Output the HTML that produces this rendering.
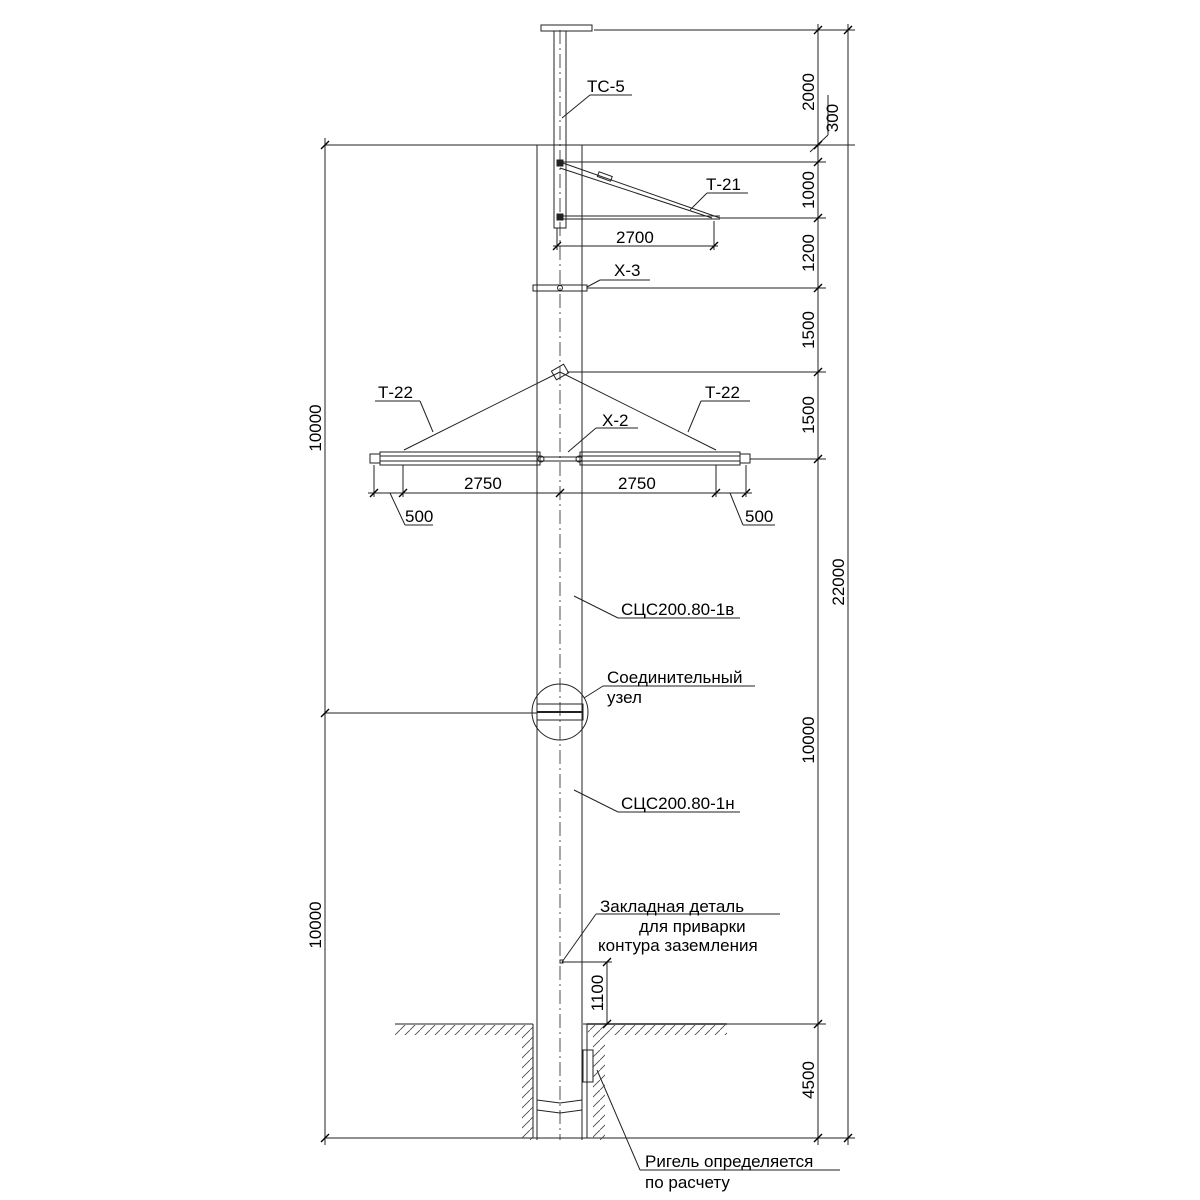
<!DOCTYPE html>
<html><head><meta charset="utf-8"><style>html,body{margin:0;padding:0;background:#fff}svg{display:block}text{font-family:"Liberation Sans","DejaVu Sans",sans-serif;fill:#000}</style></head><body>
<svg width="1200" height="1200" viewBox="0 0 1200 1200" xmlns="http://www.w3.org/2000/svg">
<defs>
<pattern id="h" width="10" height="10" patternUnits="userSpaceOnUse"><path d="M0 10 L10 0" stroke="#444" stroke-width="0.8"/></pattern>
</defs>
<g stroke="#222" stroke-width="1" fill="none">
<!-- pole -->
<line x1="537" y1="145" x2="537" y2="1140"/>
<line x1="582" y1="145" x2="582" y2="1140"/>
<line x1="560" y1="30" x2="560" y2="1140" stroke-dasharray="14,4,2,4" stroke-width="0.8"/>
<!-- TC-5 -->
<rect x="541" y="25" width="51" height="6"/>
<rect x="554" y="31" width="12" height="197"/>
<!-- T-21 -->
<line x1="560" y1="162" x2="720" y2="218"/>
<line x1="560" y1="168" x2="712" y2="218"/>
<rect x="598" y="174" width="14" height="5" transform="rotate(20 605 176)"/>
<line x1="560" y1="216" x2="720" y2="216"/>
<line x1="560" y1="219" x2="720" y2="219"/>
<rect x="557" y="160" width="6" height="6" fill="#222"/>
<rect x="557" y="214" width="6" height="6" fill="#222"/>
<!-- X-3 -->
<rect x="533" y="285" width="54" height="6"/>
<circle cx="560" cy="288" r="2.5"/>
<!-- T-22 -->
<line x1="560" y1="372" x2="404" y2="450"/>
<line x1="560" y1="372" x2="716" y2="450"/>
<rect x="553" y="367" width="14" height="10" transform="rotate(-30 560 372)"/>
<rect x="380" y="452" width="160" height="13"/>
<rect x="580" y="452" width="160" height="13"/>
<line x1="380" y1="456" x2="540" y2="456"/><line x1="380" y1="461" x2="540" y2="461"/>
<line x1="580" y1="456" x2="740" y2="456"/><line x1="580" y1="461" x2="740" y2="461"/>
<rect x="370" y="454" width="10" height="9"/><rect x="740" y="454" width="10" height="9"/>
<line x1="540" y1="457" x2="580" y2="457"/><line x1="540" y1="461" x2="580" y2="461"/>
<circle cx="541" cy="459" r="3"/><circle cx="579" cy="459" r="3"/>
<!-- dimension lines right -->
<line x1="594" y1="30" x2="855" y2="30"/>
<line x1="325" y1="145" x2="855" y2="145"/>
<line x1="563" y1="162" x2="826" y2="162"/>
<line x1="720" y1="218" x2="826" y2="218"/>
<line x1="587" y1="288" x2="826" y2="288"/>
<line x1="567" y1="372" x2="826" y2="372"/>
<line x1="750" y1="459" x2="826" y2="459"/>
<line x1="818" y1="24" x2="818" y2="1145"/>
<line x1="848" y1="24" x2="848" y2="1145"/>
<line x1="325" y1="138" x2="325" y2="1145"/>
<line x1="325" y1="713" x2="537" y2="713"/>
<line x1="583" y1="1024" x2="826" y2="1024"/>
<line x1="325" y1="1138" x2="855" y2="1138"/>
<!-- 2700 dim -->
<line x1="557" y1="228" x2="557" y2="250"/><line x1="714" y1="221" x2="714" y2="250"/>
<line x1="553" y1="246" x2="718" y2="246"/>
<!-- 2750 dims -->
<line x1="374" y1="465" x2="374" y2="497"/><line x1="403" y1="465" x2="403" y2="497"/>
<line x1="716" y1="465" x2="716" y2="497"/><line x1="746" y1="465" x2="746" y2="497"/>
<line x1="368" y1="493" x2="752" y2="493"/>
<line x1="390" y1="493" x2="405" y2="525"/><line x1="405" y1="525" x2="433" y2="525"/>
<line x1="730" y1="493" x2="743" y2="525"/><line x1="743" y1="525" x2="775" y2="525"/>
<!-- 1100 -->
<line x1="562" y1="962" x2="612" y2="962"/>
<line x1="607" y1="962" x2="607" y2="1024"/>
<!-- ground -->
<line x1="395" y1="1024" x2="533" y2="1024"/>
<line x1="533" y1="1024" x2="533" y2="1138"/>
<line x1="587" y1="1024" x2="587" y2="1138"/>
<line x1="587" y1="1024" x2="727" y2="1024" stroke-width="1.6"/>
<rect x="583" y="1050" width="10" height="32"/>
<path d="M537 1100 L560 1103 L582 1100 M537 1110 L560 1113 L582 1110"/>
<!-- leaders -->
<line x1="562" y1="118" x2="590" y2="95"/><line x1="590" y1="95" x2="632" y2="95"/>
<line x1="690" y1="210" x2="707" y2="193"/><line x1="707" y1="193" x2="748" y2="193"/>
<line x1="587" y1="287" x2="600" y2="280"/><line x1="600" y1="280" x2="650" y2="280"/>
<line x1="433" y1="432" x2="420" y2="401"/><line x1="375" y1="401" x2="420" y2="401"/>
<line x1="688" y1="432" x2="701" y2="401"/><line x1="701" y1="401" x2="750" y2="401"/>
<line x1="568" y1="452" x2="596" y2="428"/><line x1="596" y1="428" x2="638" y2="428"/>
<line x1="574" y1="596" x2="618" y2="618"/><line x1="618" y1="618" x2="740" y2="618"/>
<line x1="584" y1="698" x2="603" y2="686"/><line x1="603" y1="686" x2="755" y2="686"/>
<line x1="574" y1="790" x2="618" y2="812"/><line x1="618" y1="812" x2="740" y2="812"/>
<line x1="562" y1="962" x2="596" y2="914"/><line x1="596" y1="914" x2="780" y2="914"/>
<line x1="597" y1="1070" x2="640" y2="1170"/><line x1="640" y1="1170" x2="840" y2="1170"/>
<line x1="828" y1="135" x2="810" y2="152"/><line x1="828" y1="135" x2="828" y2="95"/>
<!-- connector node -->
<circle cx="560" cy="712" r="28"/>
<rect x="537" y="704" width="46" height="16"/>
<line x1="537" y1="712" x2="583" y2="712" stroke-width="2"/>
<rect x="560" y="960" width="3" height="3"/>
</g>
<g stroke="#000" stroke-width="1.4">
<path d="M814 34l8-8M814 149l8-8M814 166l8-8M814 222l8-8M814 292l8-8M814 376l8-8M814 463l8-8M814 1028l8-8M814 1142l8-8M844 34l8-8M844 1142l8-8M321 149l8-8M321 717l8-8M321 1142l8-8M553 250l8-8M710 250l8-8M370 497l8-8M399 497l8-8M556 497l8-8M712 497l8-8M742 497l8-8M603 966l8-8M603 1028l8-8"/>
</g>
<rect x="395" y="1025" width="138" height="10" fill="url(#h)"/>
<rect x="588" y="1025" width="139" height="10" fill="url(#h)"/>
<rect x="522" y="1035" width="11" height="105" fill="url(#h)"/>
<rect x="593" y="1035" width="12" height="105" fill="url(#h)"/>
<g font-size="17">
<text x="587" y="92">ТС-5</text>
<text x="706" y="190">Т-21</text>
<text x="616" y="243">2700</text>
<text x="614" y="276">Х-3</text>
<text x="378" y="398">Т-22</text>
<text x="705" y="398">Т-22</text>
<text x="602" y="426">Х-2</text>
<text x="464" y="489">2750</text>
<text x="618" y="489">2750</text>
<text x="405" y="522">500</text>
<text x="745" y="522">500</text>
<text x="621" y="615">СЦС200.80-1в</text>
<text x="607" y="683">Соединительный</text>
<text x="607" y="703">узел</text>
<text x="621" y="809">СЦС200.80-1н</text>
<text x="600" y="912">Закладная деталь</text>
<text x="639" y="932">для  приварки</text>
<text x="598" y="951">контура заземления</text>
<text x="645" y="1167">Ригель определяется</text>
<text x="645" y="1188">по расчету</text>
</g>
<g font-size="17">
<text transform="translate(814,92) rotate(-90)" text-anchor="middle">2000</text>
<text transform="translate(838,118) rotate(-90)" text-anchor="middle">300</text>
<text transform="translate(814,190) rotate(-90)" text-anchor="middle">1000</text>
<text transform="translate(814,253) rotate(-90)" text-anchor="middle">1200</text>
<text transform="translate(814,330) rotate(-90)" text-anchor="middle">1500</text>
<text transform="translate(814,415) rotate(-90)" text-anchor="middle">1500</text>
<text transform="translate(844,582) rotate(-90)" text-anchor="middle">22000</text>
<text transform="translate(814,740) rotate(-90)" text-anchor="middle">10000</text>
<text transform="translate(603,993) rotate(-90)" text-anchor="middle">1100</text>
<text transform="translate(814,1080) rotate(-90)" text-anchor="middle">4500</text>
<text transform="translate(321,428) rotate(-90)" text-anchor="middle">10000</text>
<text transform="translate(321,925) rotate(-90)" text-anchor="middle">10000</text>
</g>
</svg>
</body></html>
